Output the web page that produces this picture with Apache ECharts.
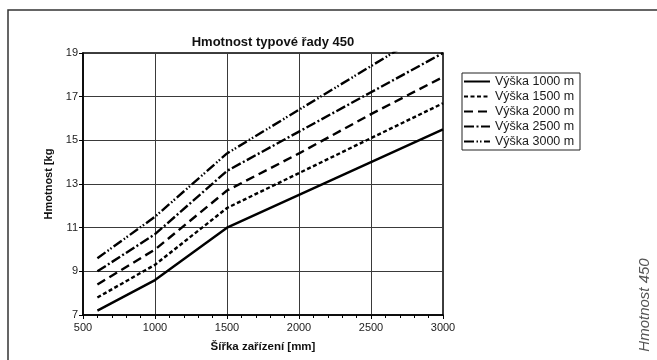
<!DOCTYPE html>
<html>
<head>
<meta charset="utf-8">
<script src="https://cdn.jsdelivr.net/npm/echarts@6/dist/echarts.min.js"></script>
<style>
  html, body { margin: 0; padding: 0; background: #fff; }
  #chart { width: 657px; height: 360px; }
</style>
</head>
<body>
<div id="chart"></div>
<script>
// Šířka zařízení [mm]
const widths = [600, 1000, 1500, 2000, 2500, 3000];
// Hmotnost [kg] for each unit height
const vyska1000 = [7.2, 8.6, 11.0, 12.5, 14.0, 15.5];
const vyska1500 = [7.8, 9.3, 11.9, 13.5, 15.1, 16.7];
const vyska2000 = [8.4, 10.0, 12.7, 14.4, 16.2, 17.9];
const vyska2500 = [9.0, 10.7, 13.6, 15.4, 17.2, 19.0];
const vyska3000 = [9.6, 11.5, 14.4, 16.4, 18.4, 20.4];

const seriesNames = ['Výška 1000 mm', 'Výška 1500 mm', 'Výška 2000 mm', 'Výška 2500 mm', 'Výška 3000 mm'];
const seriesValues = [vyska1000, vyska1500, vyska2000, vyska2500, vyska3000];
const dashPatterns = [
  'solid',
  [4, 2.5],
  [9, 5],
  [10, 2.5, 2, 2.5],
  [10, 2.5, 1.5, 2, 1.5, 2.5]
];

const FONT = '"Liberation Sans", Arial, Helvetica, sans-serif';

const chart = echarts.init(document.getElementById('chart'), null, { renderer: 'canvas' });

chart.setOption({
  animation: false,
  backgroundColor: '#fff',
  textStyle: { fontFamily: FONT },
  title: {
    text: 'Hmotnost typové řady 450',
    left: 268,
    top: 31,
    textAlign: 'center',
    textStyle: { fontSize: 13, fontWeight: 'bold', color: '#111', fontFamily: FONT }
  },
  grid: {
    left: 83, right: 214, top: 53, bottom: 45,
    show: true, borderColor: '#000', borderWidth: 1.5, backgroundColor: 'transparent'
  },
  legend: {
    left: 462, top: 73,
    orient: 'vertical',
    backgroundColor: '#fff',
    borderColor: '#222', borderWidth: 1,
    padding: [1, 0, 1, 1],
    itemGap: 0,
    itemWidth: 26, itemHeight: 12,
    itemStyle: { color: 'transparent', borderColor: 'transparent', borderWidth: 0 },
    textStyle: {
      fontSize: 12.5, color: '#1a1a1a', fontFamily: FONT,
      lineHeight: 15, width: 85, overflow: 'truncate', ellipsis: ''
    },
    data: seriesNames
  },
  xAxis: {
    type: 'value', min: 500, max: 3000, interval: 500,
    name: 'Šířka zařízení [mm]', nameLocation: 'middle', nameGap: 26,
    nameTextStyle: { fontSize: 11.5, fontWeight: 'bold', color: '#111', fontFamily: FONT },
    axisLine: { show: true, lineStyle: { color: '#000', width: 1.5 } },
    axisTick: { show: true, length: 4, lineStyle: { color: '#000' } },
    minorTick: { show: true, splitNumber: 5, length: 3, lineStyle: { color: '#000' } },
    axisLabel: { fontSize: 11, color: '#222', margin: 7, fontFamily: FONT, formatter: v => String(v) },
    splitLine: { show: true, lineStyle: { color: '#3a3a3a', width: 1 } }
  },
  yAxis: {
    type: 'value', min: 7, max: 19, interval: 2,
    name: 'Hmotnost [kg', nameLocation: 'middle', nameGap: 27, nameRotate: 90,
    nameTextStyle: { fontSize: 11, fontWeight: 'bold', color: '#111', fontFamily: FONT },
    axisLine: { show: true, lineStyle: { color: '#000', width: 1.5 } },
    axisTick: { show: true, length: 4, lineStyle: { color: '#000' } },
    axisLabel: { fontSize: 11, color: '#222', margin: 5, fontFamily: FONT },
    splitLine: { show: true, lineStyle: { color: '#3a3a3a', width: 1 } }
  },
  series: seriesNames.map((name, i) => ({
    name: name,
    type: 'line',
    clip: true,
    symbol: 'none',
    data: widths.map((w, j) => [w, seriesValues[i][j]]),
    lineStyle: { color: '#000', width: 2.4, type: dashPatterns[i], cap: 'butt' },
    itemStyle: { color: '#000' }
  })),
  graphic: [
    {
      type: 'rect',
      shape: { x: 8, y: 10, width: 720, height: 420 },
      style: { fill: 'none', stroke: '#333', lineWidth: 1.5 },
      silent: true
    },
    {
      type: 'text',
      x: 645, y: 305,
      rotation: Math.PI / 2,
      style: {
        text: 'Hmotnost 450',
        fontSize: 15, fontStyle: 'italic', fontFamily: FONT,
        fill: '#555', align: 'center', verticalAlign: 'middle'
      },
      silent: true
    }
  ]
});
</script>
</body>
</html>
